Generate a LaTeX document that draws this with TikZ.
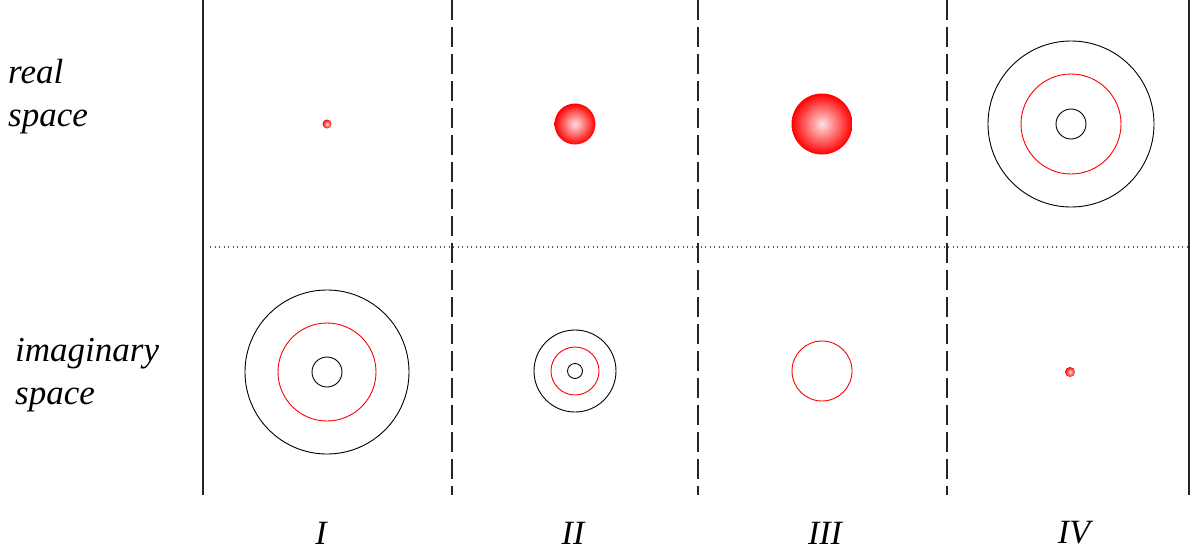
\documentclass[tikz,border=0pt]{standalone}
\usepackage{fontspec}
\setmainfont{Liberation Serif}
\begin{document}
\begin{tikzpicture}[x=1pt,y=-1pt,
  solidsep/.style={line width=1.3pt,black!85},
  dashsep/.style={line width=1.3pt,black!85,dash pattern=on 20pt off 7pt},
  dotsep/.style={line width=1.2pt,black!65,dash pattern=on 1.2pt off 3.3pt},
  ring/.style={line width=0.9pt},
  blob/.style={circle,inner sep=0pt,shading=radial,inner color=red!12,outer color=red},
  lab/.style={font=\fontsize{35}{43}\selectfont\itshape,align=left,anchor=west,inner sep=0pt},
  num/.style={font=\fontsize{34}{36}\selectfont\itshape,inner sep=0pt}]
\useasboundingbox (0,0) rectangle (1198,554);
% separators
\coordinate (t1) at (203,0); \coordinate (b1) at (203,495);
\coordinate (t2) at (452,0); \coordinate (b2) at (452,495);
\coordinate (t3) at (698,0); \coordinate (b3) at (698,495);
\coordinate (t4) at (947,0); \coordinate (b4) at (947,495);
\coordinate (t5) at (1189,0); \coordinate (b5) at (1189,495);
\coordinate (hl) at (210,247); \coordinate (hr) at (1189,247);
\draw[solidsep] (t1) -- (b1);
\draw[dashsep] (t2) -- (b2);
\draw[dashsep] (t3) -- (b3);
\draw[dashsep] (t4) -- (b4);
\draw[solidsep] (t5) -- (b5);
\draw[dotsep] (hl) -- (hr);
% row labels
\node[lab] (real) at (8,97) {real\\space};
\node[lab] (imag) at (15,375) {imaginary\\space};
% column labels
\node[num] (cI) at (321,533) {I};
\node[num] (cII) at (573,533) {II};
\node[num] (cIII) at (825,533) {III};
\node[num] (cIV) at (1074,533) {IV};
% real space
\node[blob,minimum size=9pt] (rI) at (327,124) {};
\node[blob,minimum size=41pt] (rII) at (575,124) {};
\node[blob,minimum size=61pt] (rIII) at (822,124) {};
\coordinate (rIV) at (1071,124);
\draw[ring] (rIV) circle (83);
\draw[ring,red] (rIV) circle (50);
\draw[ring] (rIV) circle (15);
% imaginary space
\coordinate (iI) at (327,372);
\draw[ring] (iI) circle (82);
\draw[ring,red] (iI) circle (49);
\draw[ring] (iI) circle (15);
\coordinate (iII) at (575,371);
\draw[ring] (iII) circle (41);
\draw[ring,red] (iII) circle (24);
\draw[ring] (iII) circle (7.5);
\coordinate (iIII) at (822,371);
\draw[ring,red] (iIII) circle (30);
\node[blob,minimum size=10pt] (iIV) at (1070,372) {};
\end{tikzpicture}
\end{document}
